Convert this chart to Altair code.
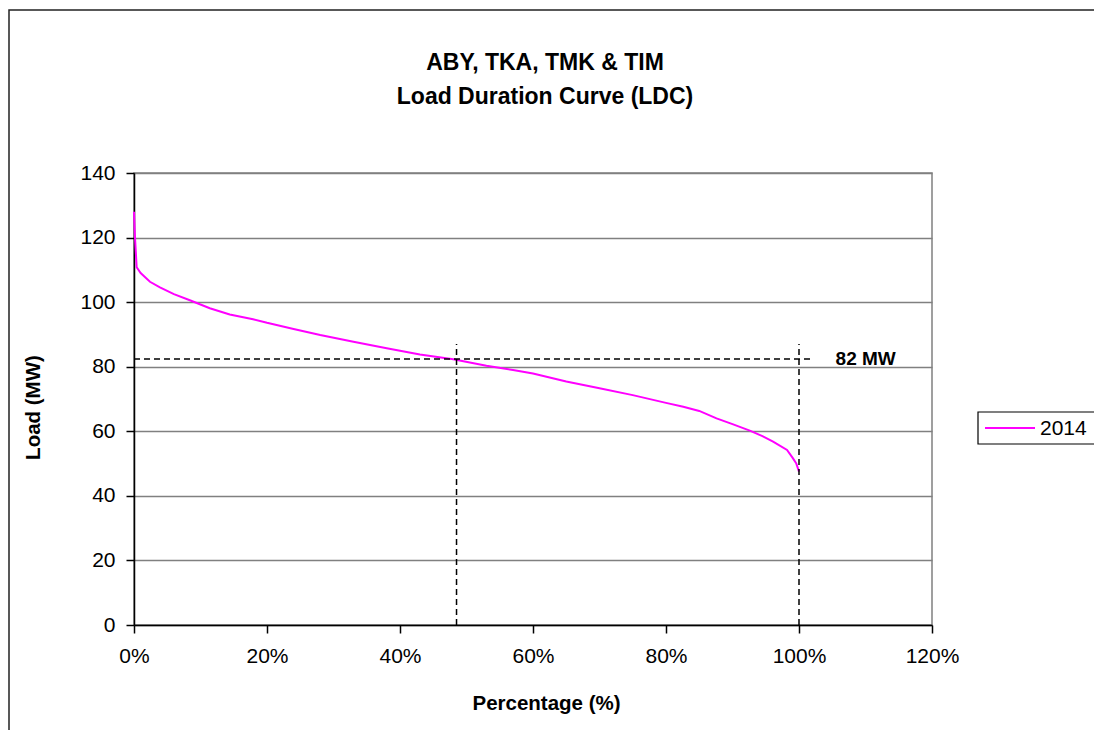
import altair as alt
import pandas as pd

# Load duration curve (x in fraction of time, y in MW)
pct = [0, 0.0015, 0.004, 0.010, 0.024, 0.039, 0.060, 0.084, 0.114, 0.144, 0.179,
       0.200, 0.240, 0.280, 0.330, 0.380, 0.430, 0.480, 0.530, 0.570, 0.600,
       0.650, 0.700, 0.750, 0.800, 0.826, 0.850, 0.876, 0.900, 0.926, 0.945,
       0.961, 0.982, 0.991, 0.996, 1.000]
load = [128, 120, 110.8, 109, 106.3, 104.6, 102.5, 100.6, 98.1, 96.2, 94.7,
        93.6, 91.7, 89.8, 87.7, 85.7, 83.8, 82.3, 80.3, 79.0, 77.9,
        75.4, 73.3, 71.2, 68.8, 67.6, 66.3, 64.0, 62.2, 60.2, 58.5,
        56.8, 54.2, 51.6, 50.0, 47.5]
series = ["2014"] * len(pct)
series_name = "2014"
series_color = "#FF00FF"

# Reference lines
h_x0 = [0.0]
h_x1 = [1.02]
h_y = [82.4]
v_x = [0.485, 1.0]
v_y0 = [0, 0]
v_y1 = [87, 87]
label_x = [1.055]
label_y = [82.4]
label_text = ["82 MW"]

title_lines = ["ABY, TKA, TMK & TIM", "Load Duration Curve (LDC)"]

x_ticks = [0, 0.2, 0.4, 0.6, 0.8, 1.0, 1.2]
y_ticks = [0, 20, 40, 60, 80, 100, 120, 140]

FONT = "Liberation Sans"

df = pd.DataFrame({"pct": pct, "load": load, "series": series})
hdf = pd.DataFrame({"x0": h_x0, "x1": h_x1, "y": h_y})
vdf = pd.DataFrame({"x": v_x, "y0": v_y0, "y1": v_y1})
ldf = pd.DataFrame({"x": label_x, "y": label_y, "t": label_text})
one = pd.DataFrame({"a": [0]})

xscale = alt.Scale(domain=[0, 1.2], nice=False, zero=False)
yscale = alt.Scale(domain=[0, 140], nice=False)

line = alt.Chart(df).mark_line(strokeWidth=2).encode(
    x=alt.X("pct:Q", scale=xscale,
            axis=alt.Axis(format="%", values=x_ticks, title="Percentage (%)",
                          grid=False, tickSize=8, labelPadding=12, labelFlush=False,
                          titleX=412, titleY=78, titleBaseline="middle",
                          titleAlign="center")),
    y=alt.Y("load:Q", scale=yscale,
            axis=alt.Axis(values=y_ticks, title="Load (MW)", grid=True,
                          tickSize=8, labelPadding=11, labelFlush=False,
                          titleX=-101, titleY=234, titleBaseline="middle",
                          titleAlign="center")),
    color=alt.Color("series:N",
                    scale=alt.Scale(domain=[series_name], range=[series_color]),
                    legend=None),
)

hrule = alt.Chart(hdf).mark_rule(color="black", strokeWidth=1.5, strokeDash=[6, 4]).encode(
    x=alt.X("x0:Q", scale=xscale), x2="x1:Q", y=alt.Y("y:Q", scale=yscale))
vrule = alt.Chart(vdf).mark_rule(color="black", strokeWidth=1.5, strokeDash=[6, 4]).encode(
    x=alt.X("x:Q", scale=xscale), y=alt.Y("y0:Q", scale=yscale), y2="y1:Q")
label = alt.Chart(ldf).mark_text(align="left", baseline="middle", fontSize=19,
                                 fontWeight="bold", font=FONT, color="black").encode(
    x=alt.X("x:Q", scale=xscale), y=alt.Y("y:Q", scale=yscale), text="t:N")

title1 = alt.Chart(one).mark_text(align="center", baseline="middle", fontSize=23,
                                  fontWeight="bold", font=FONT, color="black").encode(
    x=alt.value(411), y=alt.value(-110), text=alt.value(title_lines[0]))
title2 = alt.Chart(one).mark_text(align="center", baseline="middle", fontSize=23,
                                  fontWeight="bold", font=FONT, color="black").encode(
    x=alt.value(411), y=alt.value(-76), text=alt.value(title_lines[1]))

# Legend box (drawn at the right of the plot)
leg_box = alt.Chart(one).mark_rect(fill="white", stroke="black", strokeWidth=1.2).encode(
    x=alt.value(844), y=alt.value(239), x2=alt.value(966), y2=alt.value(271))
leg_line = alt.Chart(one).mark_rule(color=series_color, strokeWidth=2).encode(
    x=alt.value(851), x2=alt.value(901), y=alt.value(255))
leg_text = alt.Chart(one).mark_text(align="left", baseline="middle", fontSize=21,
                                    font=FONT, color="black").encode(
    x=alt.value(906), y=alt.value(256), text=alt.value(series_name))

border = alt.Chart(one).mark_rect(
    fill=None, stroke="#222222", strokeWidth=1.5).encode(
    x=alt.value(-125), y=alt.value(-163), x2=alt.value(975), y2=alt.value(575))

chart = alt.layer(border, title1, title2, line, hrule, vrule, label,
                  leg_box, leg_line, leg_text).properties(
    width=798, height=452,
    autosize=alt.AutoSizeParams(type="none"),
    padding={"left": 126, "top": 165, "right": 162, "bottom": 105},
).configure(background="white").configure_view(
    stroke="#808080", strokeWidth=1.5
).configure_axis(
    labelFont=FONT, labelFontSize=21, labelColor="black",
    titleFont=FONT, titleFontSize=20.5, titleFontWeight="bold", titleColor="black",
    domainColor="black", tickColor="black", gridColor="#808080", gridWidth=1.5,
    gridOpacity=1, domainWidth=1.5, tickWidth=1.5,
)

chart.save("out.html", embed_options={"renderer": "svg", "actions": False})
